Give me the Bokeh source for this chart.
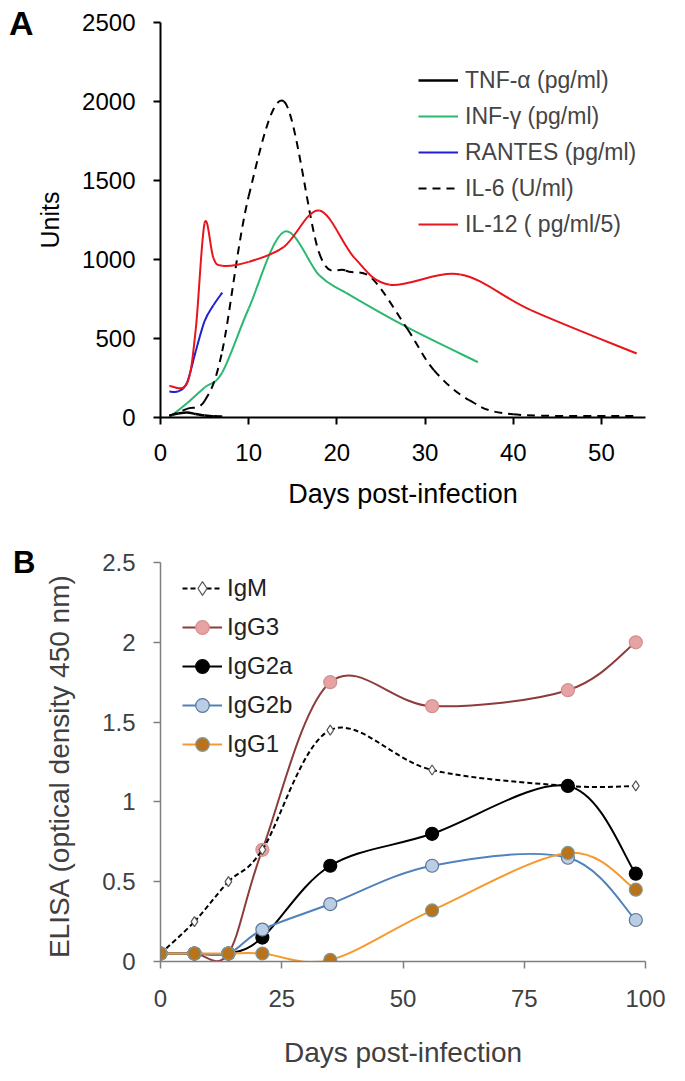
import numpy as np
from bokeh.plotting import figure
from bokeh.models import Range1d, Legend, LegendItem, FixedTicker, LinearAxis
from bokeh.layouts import column
from bokeh.embed import file_html
from bokeh.resources import INLINE

FONT = "Liberation Sans"

# ---------------- Panel A data ----------------
tnf_days = [1, 2, 3, 4, 5, 6, 7]
tnf_vals = [12, 25, 32, 22, 12, 8, 6]
inf_days = [1, 3, 5, 7, 10, 14, 18, 21, 28, 36]
inf_vals = [0, 90, 190, 285, 690, 1175, 900, 790, 570, 350]
rantes_days = [1, 2, 3, 4, 5, 6, 7]
rantes_vals = [165, 165, 220, 420, 610, 710, 790]
il6_days = [1, 3, 5, 7, 10, 14, 18, 21, 24, 28, 31, 35, 40, 54]
il6_vals = [10, 55, 105, 420, 1400, 2000, 1040, 930, 880, 560, 300, 110, 20, 10]
il12_days = [1, 3, 4, 5, 6, 7, 10, 14, 18, 22, 26, 34, 42, 54]
il12_vals = [200, 215, 560, 1230, 1010, 960, 985, 1080, 1310, 1010, 840, 905, 680, 405]
a_xticks = [0, 10, 20, 30, 40, 50]
a_yticks = [0, 500, 1000, 1500, 2000, 2500]

# ---------------- Panel B data ----------------
b_days = [0, 7, 14, 21, 35, 56, 84, 98]
igm = [0.05, 0.25, 0.5, 0.7, 1.45, 1.2, 1.1, 1.1]
igg3 = [0.05, 0.05, 0.05, 0.7, 1.75, 1.6, 1.7, 2.0]
igg2a = [0.05, 0.05, 0.05, 0.15, 0.6, 0.8, 1.1, 0.55]
igg2b = [0.05, 0.05, 0.05, 0.2, 0.36, 0.6, 0.65, 0.26]
igg1 = [0.05, 0.05, 0.05, 0.05, 0.01, 0.32, 0.68, 0.45]
b_xticks = [0, 25, 50, 75, 100]
b_yticks = [0, 0.5, 1, 1.5, 2, 2.5]


def smooth(xs, ys):
    """Bezier control points for a smoothed (Catmull-Rom style) line through the data."""
    x = np.asarray(xs, float)
    y = np.asarray(ys, float)
    n = len(x)
    xp = np.concatenate([[x[0]], x, [x[-1]]])
    yp = np.concatenate([[y[0]], y, [y[-1]]])
    return dict(
        x0=x[:-1], y0=y[:-1], x1=x[1:], y1=y[1:],
        cx0=x[:-1] + (xp[2:n + 1] - xp[0:n - 1]) / 6.0,
        cy0=y[:-1] + (yp[2:n + 1] - yp[0:n - 1]) / 6.0,
        cx1=x[1:] - (xp[3:n + 2] - xp[1:n]) / 6.0,
        cy1=y[1:] - (yp[3:n + 2] - yp[1:n]) / 6.0,
    )


def style_axes(p, color, label_color, tick_size, xtitle_size, ytitle_size, lw):
    for ax, ts in ((p.xaxis[0], xtitle_size), (p.yaxis[0], ytitle_size)):
        ax.axis_line_color = color
        ax.axis_line_width = lw
        ax.major_tick_line_color = color
        ax.major_tick_line_width = lw
        ax.major_tick_out = 7
        ax.major_tick_in = 0
        ax.minor_tick_line_color = None
        ax.major_label_text_font = FONT
        ax.major_label_text_font_size = tick_size
        ax.major_label_text_color = label_color
        ax.axis_label_text_font = FONT
        ax.axis_label_text_font_size = ts
        ax.axis_label_text_font_style = "normal"
        ax.axis_label_text_color = label_color
    p.xgrid.visible = False
    p.ygrid.visible = False
    p.outline_line_color = None


def panel_letter(p, letter, size, standoff):
    """Panel letter as the (horizontal, top-aligned) title of a tick-less extra left axis."""
    ax = LinearAxis(ticker=FixedTicker(ticks=[]), axis_line_color=None,
                    major_tick_line_color=None, minor_tick_line_color=None,
                    major_tick_out=0, major_tick_in=0, minor_tick_out=0, minor_tick_in=0,
                    major_label_text_font_size="0px", axis_label=letter,
                    axis_label_text_font=FONT, axis_label_text_font_size=size,
                    axis_label_text_font_style="bold", axis_label_text_color="black",
                    axis_label_standoff=standoff)
    try:
        ax.axis_label_orientation = "horizontal"
    except Exception:
        return
    try:
        ax.axis_label_align = "end"
    except Exception:
        return
    p.add_layout(ax, "left")


# ================= Panel A =================
pA = figure(width=680, height=520, output_backend="svg", toolbar_location=None,
            x_range=Range1d(0, 55), y_range=Range1d(0, 2500),
            min_border_left=160, min_border_right=35, min_border_top=22, min_border_bottom=103)
style_axes(pA, "black", "black", "24px", "27px", "25px", 2)
pA.xaxis.ticker = FixedTicker(ticks=a_xticks)
pA.yaxis.ticker = FixedTicker(ticks=a_yticks)
pA.xaxis.axis_label = "Days post-infection"
pA.yaxis.axis_label = "Units"
pA.xaxis.major_label_standoff = 19
pA.yaxis.major_label_standoff = 18
pA.xaxis.axis_label_standoff = 15
pA.yaxis.axis_label_standoff = 15

r_tnf = pA.bezier(**smooth(tnf_days, tnf_vals), line_color="black", line_width=2.5)
r_inf = pA.bezier(**smooth(inf_days, inf_vals), line_color="#2db872", line_width=2)
r_ran = pA.bezier(**smooth(rantes_days, rantes_vals), line_color="#2020d0", line_width=2)
r_il6 = pA.bezier(**smooth(il6_days, il6_vals), line_color="black", line_width=2, line_dash="8 6")
r_il12 = pA.bezier(**smooth(il12_days, il12_vals), line_color="#e8161c", line_width=2)

legA = Legend(items=[
    LegendItem(label="TNF-α (pg/ml)", renderers=[r_tnf]),
    LegendItem(label="INF-γ (pg/ml)", renderers=[r_inf]),
    LegendItem(label="RANTES (pg/ml)", renderers=[r_ran]),
    LegendItem(label="IL-6 (U/ml)", renderers=[r_il6]),
    LegendItem(label="IL-12 ( pg/ml/5)", renderers=[r_il12]),
], location=(258, 179), padding=0, margin=0, spacing=8, glyph_width=40, glyph_height=28,
    label_height=28, label_standoff=7, label_text_font=FONT, label_text_font_size="23px",
    border_line_alpha=0, background_fill_alpha=0)
pA.add_layout(legA)
panel_letter(pA, "A", "34px", 0)

# ================= Panel B =================
pB = figure(width=680, height=553, output_backend="svg", toolbar_location=None,
            x_range=Range1d(0, 100), y_range=Range1d(0, 2.5),
            min_border_left=160, min_border_right=35, min_border_top=42, min_border_bottom=112)
style_axes(pB, "#7f7f7f", "#404040", "24px", "28px", "28px", 1.5)
pB.xaxis.ticker = FixedTicker(ticks=b_xticks)
pB.yaxis.ticker = FixedTicker(ticks=b_yticks)
pB.yaxis.major_label_overrides = {0: "0", 1: "1", 2: "2", 0.5: "0.5", 1.5: "1.5", 2.5: "2.5"}
pB.xaxis.axis_label = "Days post-infection"
pB.yaxis.axis_label = "ELISA (optical density  450 nm)"
pB.xaxis.major_label_standoff = 21
pB.yaxis.major_label_standoff = 18
pB.xaxis.axis_label_standoff = 27
pB.yaxis.axis_label_standoff = 24

series = [
    # name, values, line color, dash, marker, fill, outline, size
    ("IgG3", igg3, "#8e3b3b", "solid", "circle", "#e6a3a3", "#d48f8f", 13),
    ("IgM", igm, "black", "5 3", "diamond", "white", "#555555", 10),
    ("IgG2a", igg2a, "black", "solid", "circle", "black", "black", 13),
    ("IgG2b", igg2b, "#4f81bd", "solid", "circle", "#b9cde5", "#5b7595", 13),
    ("IgG1", igg1, "#f79a2e", "solid", "circle", "#b8731c", "#7f9a9a", 13),
]
rend = {}
for name, vals, lc, dash, mk, fc, oc, sz in series:
    rl = pB.bezier(**smooth(b_days, vals), line_color=lc, line_width=2, line_dash=dash)
    rm = pB.scatter(b_days, vals, marker=mk, size=sz, fill_color=fc, line_color=oc, line_width=1.2)
    rend[name] = [rl, rm]

legB = Legend(items=[LegendItem(label=n, renderers=rend[n]) for n in ["IgM", "IgG3", "IgG2a", "IgG2b", "IgG1"]],
              location=(22, 200), padding=0, margin=0, spacing=5, glyph_width=40, glyph_height=34,
              label_height=34, label_standoff=5, label_text_font=FONT, label_text_font_size="24px",
              label_text_color="#222222", border_line_alpha=0, background_fill_alpha=0)
pB.add_layout(legB)
panel_letter(pB, "B", "31px", 6)

layout = column(pA, pB)
open("out.html", "w").write(file_html(layout, INLINE))
